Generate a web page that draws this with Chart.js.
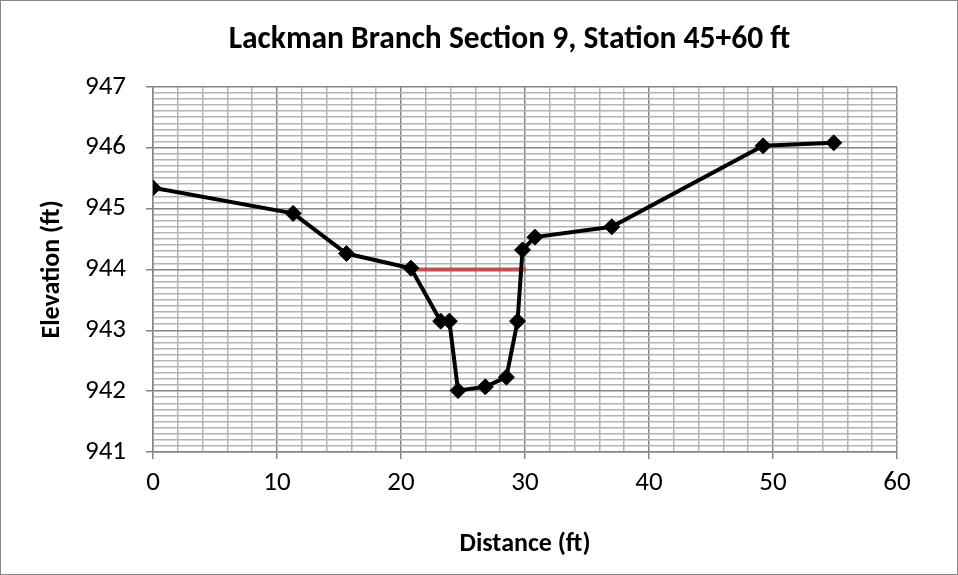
<!DOCTYPE html>
<html>
<head>
<meta charset="utf-8">
<script src="https://cdn.jsdelivr.net/npm/chart.js@4"></script>
<style>
  html, body { margin: 0; padding: 0; background: #fff; }
  #wrap { width: 958px; height: 575px; }
</style>
</head>
<body>
<div id="wrap"><canvas id="sectionChart" width="958" height="575"></canvas></div>
<script>
// surveyed cross section (distance ft, elevation ft)
const distance = [0, 11.3, 15.6, 20.8, 23.2, 23.9, 24.6, 26.8, 28.5, 29.4, 29.8, 30.8, 37.0, 49.2, 54.9];
const elevation = [945.34, 944.92, 944.26, 944.02, 943.15, 943.15, 942.01, 942.07, 942.23, 943.15, 944.32, 944.53, 944.70, 946.03, 946.08];

// water surface line
const waterDistance = [20.9, 30.1];
const waterElevation = [944.0, 944.0];

const xTicks = [0, 10, 20, 30, 40, 50, 60];
const yTicks = [941, 942, 943, 944, 945, 946, 947];

const FONT = "Carlito, Calibri, 'Liberation Sans', Arial, sans-serif";

function toPoints(xs, ys) {
  return xs.map((x, i) => ({ x: x, y: ys[i] }));
}

function isMajor(v, list) {
  return list.some(t => Math.abs(t - v) < 1e-6);
}

// white background + grey outer frame like the Excel chart area
const frame = {
  id: 'frame',
  afterLayout(chart) {
    // excel centres the title a bit further right (over the plot)
    if (chart.titleBlock) chart.titleBlock.left += 122;
  },
  beforeDraw(chart) {
    const ctx = chart.ctx;
    ctx.save();
    ctx.fillStyle = '#fff';
    ctx.fillRect(0, 0, chart.width, chart.height);
    ctx.strokeStyle = '#888';
    ctx.lineWidth = 1;
    ctx.strokeRect(0.5, 0.5, chart.width - 1, chart.height - 1);
    ctx.restore();
  }
};

new Chart(document.getElementById('sectionChart'), {
  type: 'scatter',
  data: {
    datasets: [
      {
        label: 'Ground',
        data: toPoints(distance, elevation),
        showLine: true,
        borderColor: '#000',
        backgroundColor: '#000',
        borderWidth: 4,
        pointStyle: 'rectRot',
        pointRadius: 8,
        pointBorderWidth: 1,
        pointHoverRadius: 8,
        order: 1
      },
      {
        label: 'Water surface',
        data: toPoints(waterDistance, waterElevation),
        showLine: true,
        borderColor: '#c0504d',
        backgroundColor: '#c0504d',
        borderWidth: 4,
        pointRadius: 0,
        order: 2
      }
    ]
  },
  options: {
    responsive: false,
    animation: false,
    layout: { padding: { left: 0, right: 61, top: 0, bottom: 0 } },
    plugins: {
      legend: { display: false },
      tooltip: { enabled: false },
      title: {
        display: true,
        text: 'Lackman Branch Section 9, Station 45+60 ft',
        color: '#000',
        font: { family: FONT, size: 31.5, weight: 'bold' },
        padding: { top: 21, bottom: 28 }
      }
    },
    scales: {
      x: {
        type: 'linear',
        min: 0,
        max: 60,
        afterFit(scale) { scale.height = 123; },
        afterBuildTicks(scale) {
          scale.ticks = [];
          for (let v = 0; v <= 60; v += 2) scale.ticks.push({ value: v });
        },
        ticks: {
          autoSkip: false,
          maxRotation: 0,
          padding: 8,
          color: '#000',
          font: { family: FONT, size: 27 },
          callback: v => isMajor(v, xTicks) ? String(v) : ''
        },
        grid: {
          color: ctx => isMajor(ctx.tick.value, xTicks) ? '#868686' : '#b4b4b4',
          lineWidth: 1.5,
          tickLength: 7,
          tickColor: ctx => isMajor(ctx.tick.value, xTicks) ? '#868686' : 'rgba(0,0,0,0)'
        },
        border: { color: '#868686', width: 1.5 },
        title: {
          display: true,
          text: 'Distance (ft)',
          color: '#000',
          font: { family: FONT, size: 26, weight: 'bold' },
          padding: { top: 15, bottom: 15 }
        }
      },
      y: {
        type: 'linear',
        min: 941,
        max: 947,
        afterFit(scale) { scale.width = 153; },
        afterBuildTicks(scale) {
          scale.ticks = [];
          for (let i = 0; i <= 60; i++) scale.ticks.push({ value: Math.round((941 + i / 10) * 10) / 10 });
        },
        ticks: {
          autoSkip: false,
          padding: 20,
          color: '#000',
          font: { family: FONT, size: 27 },
          callback: v => isMajor(v, yTicks) ? String(Math.round(v)) : ''
        },
        grid: {
          color: ctx => isMajor(ctx.tick.value, yTicks) ? '#868686' : '#b4b4b4',
          lineWidth: 1.5,
          tickLength: 7,
          tickColor: ctx => isMajor(ctx.tick.value, yTicks) ? '#868686' : 'rgba(0,0,0,0)'
        },
        border: { color: '#868686', width: 1.5 },
        title: {
          display: true,
          text: 'Elevation (ft)',
          color: '#000',
          font: { family: FONT, size: 26, weight: 'bold' },
          padding: { top: 37, bottom: 37 }
        }
      }
    }
  },
  plugins: [frame]
});
</script>
</body>
</html>
